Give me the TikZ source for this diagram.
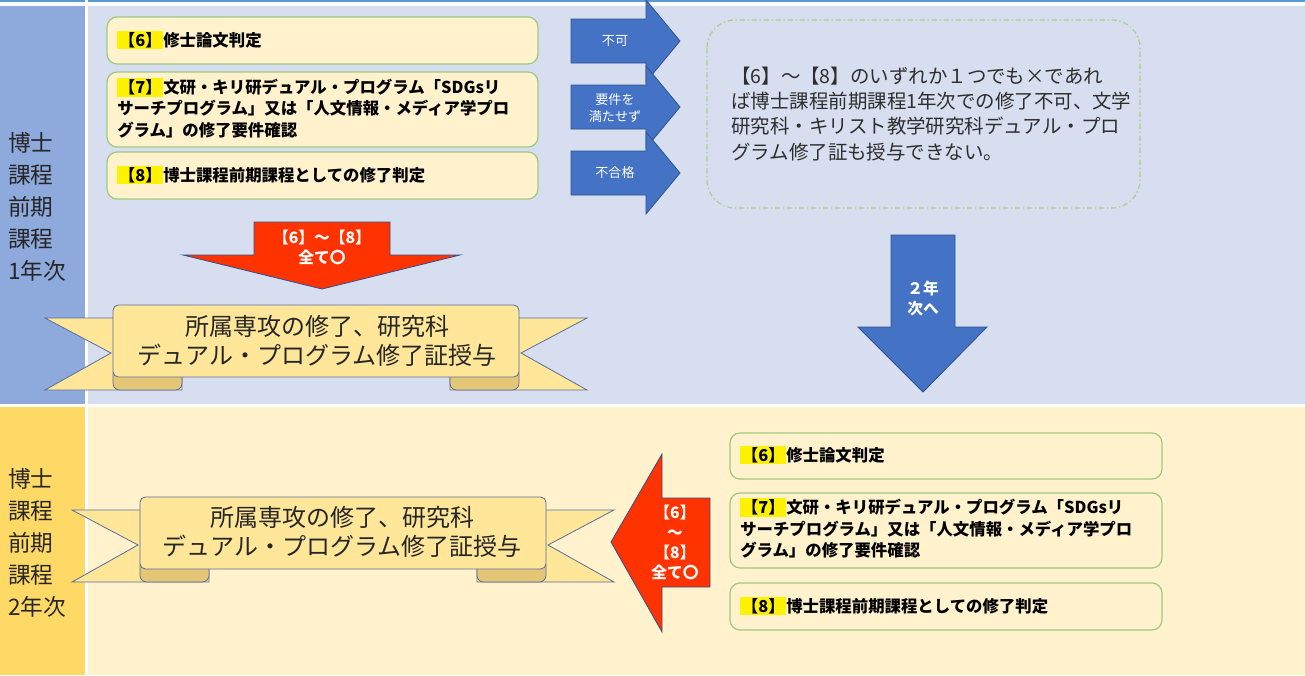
\documentclass[tikz,border=0pt]{standalone}
\usepackage{fontspec}
\newfontfamily\jp{Noto Sans CJK JP}
\definecolor{topbg}{HTML}{D6DEF0}
\definecolor{colblue}{HTML}{8EA9DB}
\definecolor{botbg}{HTML}{FFF2CC}
\definecolor{colyel}{HTML}{FFD966}
\definecolor{lineblue}{HTML}{5B9BD5}
\definecolor{boxfill}{HTML}{FFF2CC}
\definecolor{boxline}{HTML}{9DC97F}
\definecolor{arrblue}{HTML}{4472C4}
\definecolor{arrblueline}{HTML}{2F528F}
\definecolor{arrred}{HTML}{FF3300}
\definecolor{ribfill}{HTML}{FFE699}
\definecolor{ribdark}{HTML}{E3C777}
\definecolor{ribline}{HTML}{5A6E9E}
\definecolor{txtdark}{HTML}{262626}
\definecolor{dtxtcol}{HTML}{2E2E2E}
\definecolor{dashgreen}{HTML}{A9D18E}
\newcommand\hlt[1]{{\setlength{\fboxsep}{1.2pt}\colorbox{yellow}{#1}}}
\tikzset{
  condbox/.style={draw=boxline, fill=boxfill, line width=0.9pt, rounded corners=7.5pt},
  bluearrow/.style={fill=arrblue, draw=arrblueline, line width=0.6pt},
  redarrow/.style={fill=arrred, draw=arrblueline, line width=0.6pt},
  rib/.style={fill=ribfill, draw=ribline, line width=0.6pt},
  ribfold/.style={fill=ribdark, draw=ribline, line width=0.6pt},
  boxtxt/.style={font=\jp\bfseries\fontsize{12.3}{15.8}\selectfont, align=left, anchor=west, inner sep=0pt, text=black},
  dtxt/.style={font=\jp\fontsize{14.6}{18.8}\selectfont, align=left, anchor=west, inner sep=0pt, text=dtxtcol},
  lbl/.style={font=\jp\fontsize{17}{24}\selectfont, align=left, anchor=west, inner sep=0pt, text=txtdark},
  bantxt/.style={font=\jp\fontsize{18}{22}\selectfont, align=center, inner sep=0pt, text=txtdark},
  arrtxt/.style={font=\jp\fontsize{9.8}{13}\selectfont, align=center, inner sep=0pt, text=white},
  arrbold/.style={font=\jp\bfseries\fontsize{11.8}{15}\selectfont, align=center, inner sep=0pt, text=white},
  ribbonpic/.pic={
    \filldraw[rib] (69,13) -- (-68,13) -- (-2,48) -- (-68,85) -- (69,85) -- cycle;
    \filldraw[rib] (337,13) -- (474,13) -- (408,48) -- (474,85) -- (337,85) -- cycle;
    \filldraw[ribfold, rounded corners=5pt] (0,62) rectangle (69,85);
    \filldraw[ribfold, rounded corners=5pt] (337,62) rectangle (406,85);
    \filldraw[rib, rounded corners=4pt] (0,0) rectangle (406,72);
  }
}
\begin{document}
\begin{tikzpicture}[x=0.75pt,y=-0.75pt]
\useasboundingbox (0,0) rectangle (1305,675);
% backgrounds
\fill[white] (0,0) rectangle (1305,675);
\fill[lineblue] (0,0) rectangle (85,1.6);
\fill[lineblue] (88,0) rectangle (1305,1.6);
\fill[colblue] (0,6) rectangle (85,404);
\fill[topbg] (88,6) rectangle (1305,404);
\fill[colyel] (0,407) rectangle (85,675);
\fill[botbg] (88,407) rectangle (1305,675);

% row labels
\node[lbl] (lab1) at (8,207) {博士\\課程\\前期\\課程\\1年次};
\node[lbl] (lab2) at (8,543) {博士\\課程\\前期\\課程\\2年次};

% top condition boxes
\draw[condbox] (107,17) rectangle (538,64);
\draw[condbox] (107,72) rectangle (538,147);
\draw[condbox] (107,152) rectangle (538,199);
\node[boxtxt] (t6a) at (117,40) {\hlt{【6】}修士論文判定};
\node[boxtxt] (t7a) at (117,108) {\hlt{【7】}文研・キリ研デュアル・プログラム「SDGsリ\\サーチプログラム」又は「人文情報・メディア学プロ\\グラム」の修了要件確認};
\node[boxtxt] (t8a) at (117,175) {\hlt{【8】}博士課程前期課程としての修了判定};

% blue right arrows
\foreach \c in {41,107,173}{
  \filldraw[bluearrow] (571,\c-22) -- (646,\c-22) -- (646,\c-41) -- (680,\c) -- (646,\c+41) -- (646,\c+22) -- (571,\c+22) -- cycle;
}
\node[arrtxt] (ng1) at (615,41) {不可};
\node[arrtxt] (ng2) at (615,108) {要件を\\満たせず};
\node[arrtxt] (ng3) at (615,173) {不合格};

% dashed note box
\draw[dashgreen, line width=0.9pt, dash pattern=on 4pt off 2pt on 1pt off 2pt, rounded corners=21pt] (707,20) rectangle (1140,208);
\node[dtxt] (note) at (731,114) {【6】～【8】のいずれか１つでも×であれ\\ば博士課程前期課程1年次での修了不可、文学\\研究科・キリスト教学研究科デュアル・プロ\\グラム修了証も授与できない。};

% red down arrow
\filldraw[redarrow] (254,222) -- (390,222) -- (390,255) -- (460,255) -- (322,289) -- (183,255) -- (254,255) -- cycle;
\node[arrbold] (ok1) at (322,247) {【6】～【8】\\全て〇};

% top ribbon
\pic at (113,305) {ribbonpic};
\node[bantxt] (ban1) at (317,341) {所属専攻の修了、研究科\\デュアル・プログラム修了証授与};

% blue down arrow
\filldraw[bluearrow] (891,235) -- (955,235) -- (955,327) -- (987,327) -- (923,392) -- (858,327) -- (891,327) -- cycle;
\node[arrbold] (next) at (923,298) {２年\\次へ};

% bottom condition boxes
\draw[condbox] (730,433) rectangle (1162,479);
\draw[condbox] (730,493) rectangle (1162,568);
\draw[condbox] (730,583) rectangle (1162,630);
\node[boxtxt] (t6b) at (740,455) {\hlt{【6】}修士論文判定};
\node[boxtxt] (t7b) at (740,528) {\hlt{【7】}文研・キリ研デュアル・プログラム「SDGsリ\\サーチプログラム」又は「人文情報・メディア学プロ\\グラム」の修了要件確認};
\node[boxtxt] (t8b) at (740,606) {\hlt{【8】}博士課程前期課程としての修了判定};

% red left arrow
\filldraw[redarrow] (710,498) -- (710,587) -- (662,587) -- (662,632) -- (611,542) -- (662,454) -- (662,498) -- cycle;
\node[arrbold] (ok2) at (675,542) {【6】\\～\\【8】\\全て〇};

% bottom ribbon
\pic at (140,497) {ribbonpic};
\node[bantxt] (ban2) at (342,532) {所属専攻の修了、研究科\\デュアル・プログラム修了証授与};
\end{tikzpicture}
\end{document}
